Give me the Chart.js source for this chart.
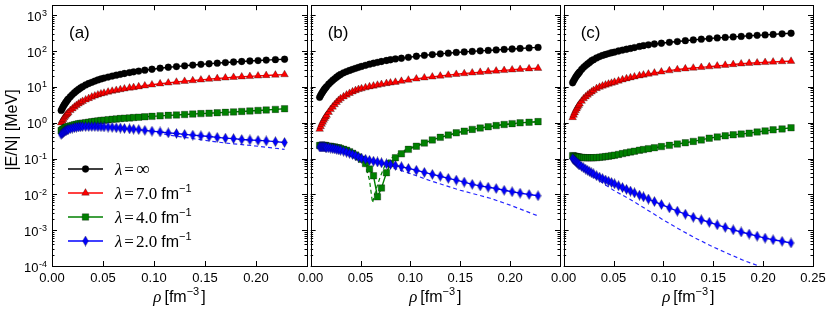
<!DOCTYPE html>
<html>
<head>
<meta charset="utf-8">
<script src="https://cdn.jsdelivr.net/npm/chart.js@4.4.0/dist/chart.umd.min.js"></script>
<style>
  html, body { margin: 0; padding: 0; background: #fff; }
  #wrap { position: relative; width: 831px; height: 310px; overflow: hidden; }
  canvas { position: absolute; top: 0; }
</style>
</head>
<body>
<div id="wrap">
  <canvas id="panelA" width="320" height="310" style="left:0px"></canvas>
  <canvas id="panelB" width="282" height="310" style="left:293px"></canvas>
  <canvas id="panelC" width="285" height="310" style="left:546px"></canvas>
</div>
<script>
// density grid of the marker curves, fm^-3
const rho = [0.009, 0.010, 0.011, 0.012, 0.013, 0.014, 0.015, 0.016, 0.018, 0.020,
  0.022, 0.024, 0.026, 0.028, 0.030, 0.033, 0.036, 0.039, 0.042, 0.045,
  0.048, 0.051, 0.055, 0.059, 0.063, 0.067, 0.071, 0.076, 0.080, 0.085,
  0.091, 0.098, 0.106, 0.114, 0.122, 0.130, 0.138, 0.146, 0.154, 0.162,
  0.170, 0.178, 0.186, 0.194, 0.202, 0.210, 0.219, 0.228];

// legend labels (lambda values)
const lambdaLabels = ['\u221e', '7.0', '4.0', '2.0'];
const panelLetters = ['(a)', '(b)', '(c)'];

// panel (a)
const aInf = [2.2, 2.5, 2.83, 3.17, 3.51, 3.86, 4.22, 4.58, 5.32, 6.08,
  6.86, 7.66, 8.48, 9.3, 10.1, 11.3, 12.4, 13.4, 14.5, 15.6,
  16.6, 17.6, 18.8, 20.0, 21.2, 22.4, 23.6, 25.0, 26.2, 27.5,
  29.2, 31.0, 33.1, 35.2, 36.8, 38.7, 40.6, 42.4, 44.1, 45.9,
  47.6, 49.3, 51.0, 52.6, 54.2, 55.8, 57.5, 59.0];
const a7 = [1.0, 1.13, 1.25, 1.38, 1.52, 1.65, 1.78, 1.92, 2.2, 2.45,
  2.75, 3.05, 3.35, 3.65, 3.95, 4.35, 4.75, 5.2, 5.6, 6.0,
  6.4, 6.7, 7.2, 7.6, 8.0, 8.4, 8.8, 9.3, 9.6, 10.1,
  10.7, 11.4, 12.2, 12.9, 13.6, 14.3, 15.0, 15.7, 16.4, 17.1,
  17.8, 18.5, 19.1, 19.6, 20.2, 20.8, 21.4, 22.0];
const a4 = [0.60, 0.63, 0.66, 0.69, 0.72, 0.74, 0.76, 0.78, 0.81, 0.84,
  0.87, 0.90, 0.93, 0.95, 0.97, 1.00, 1.03, 1.06, 1.09, 1.12,
  1.15, 1.17, 1.21, 1.24, 1.27, 1.30, 1.33, 1.36, 1.39, 1.42,
  1.46, 1.50, 1.55, 1.60, 1.64, 1.69, 1.74, 1.79, 1.84, 1.89,
  1.94, 2.00, 2.06, 2.12, 2.19, 2.26, 2.35, 2.45];
const a2 = [0.47, 0.50, 0.53, 0.56, 0.59, 0.61, 0.63, 0.65, 0.68, 0.71,
  0.73, 0.75, 0.76, 0.77, 0.78, 0.78, 0.78, 0.78, 0.78, 0.77,
  0.77, 0.76, 0.75, 0.74, 0.72, 0.71, 0.69, 0.67, 0.66, 0.64,
  0.61, 0.58, 0.55, 0.52, 0.50, 0.47, 0.45, 0.43, 0.41, 0.39,
  0.37, 0.36, 0.34, 0.33, 0.32, 0.31, 0.295, 0.28];
const rhoDashA2 = [0.009, 0.02, 0.04, 0.06, 0.08, 0.10, 0.115, 0.13, 0.15, 0.17, 0.196, 0.228];
const a2Dash = [0.47, 0.71, 0.78, 0.74, 0.66, 0.55, 0.45, 0.39, 0.32, 0.27, 0.23, 0.18];

// panel (b)
const bInf = [5.1, 5.8, 6.5, 7.2, 7.9, 8.7, 9.4, 10.2, 11.8, 13.4,
  15.1, 16.8, 18.6, 20.4, 22.2, 24.7, 26.7, 28.7, 30.8, 32.9,
  35.0, 37.2, 40.0, 42.8, 45.6, 48.3, 51.0, 54.3, 57.0, 60.0,
  62.8, 66.7, 71.4, 75.6, 79.6, 83.4, 87.3, 91.3, 94.5, 97.7,
  101, 104, 107, 111, 114, 118, 122, 126];
const b7 = [0.66, 0.78, 0.91, 1.04, 1.18, 1.32, 1.47, 1.62, 1.95, 2.35,
  2.75, 3.2, 3.7, 4.2, 4.7, 5.3, 5.95, 6.6, 7.3, 7.9,
  8.5, 8.9, 9.5, 10.1, 10.6, 11.2, 11.7, 12.4, 12.9, 13.5,
  14.4, 15.5, 16.7, 17.9, 19.0, 20.1, 21.3, 22.4, 23.5, 24.6,
  25.6, 26.7, 27.8, 28.8, 29.9, 30.9, 32.0, 33.0];
const b4 = [0.23, 0.23, 0.23, 0.23, 0.23, 0.23, 0.23, 0.22, 0.22, 0.22,
  0.21, 0.21, 0.20, 0.20, 0.19, 0.18, 0.17, 0.155, 0.14, 0.125,
  0.11, 0.095, 0.072, 0.051, 0.033, 0.0085, 0.015, 0.040, 0.072, 0.105,
  0.135, 0.18, 0.22, 0.27, 0.33, 0.39, 0.45, 0.52, 0.58, 0.65,
  0.71, 0.77, 0.83, 0.89, 0.94, 0.99, 1.03, 1.07];
const b2 = [0.21, 0.21, 0.21, 0.21, 0.21, 0.21, 0.205, 0.20, 0.20, 0.195,
  0.19, 0.185, 0.18, 0.175, 0.17, 0.16, 0.15, 0.14, 0.13, 0.12,
  0.11, 0.102, 0.095, 0.089, 0.084, 0.080, 0.076, 0.071, 0.068, 0.064,
  0.059, 0.053, 0.047, 0.041, 0.036, 0.032, 0.028, 0.025, 0.022, 0.019,
  0.0172, 0.0158, 0.0145, 0.013, 0.0118, 0.0108, 0.0099, 0.0091];
const rhoDashB4 = [0.009, 0.02, 0.03, 0.04, 0.048, 0.052, 0.056, 0.059, 0.062, 0.066, 0.070,
  0.074, 0.079, 0.084, 0.090, 0.098, 0.106, 0.12, 0.15, 0.19, 0.228];
const b4Dash = [0.23, 0.22, 0.19, 0.15, 0.11, 0.085, 0.05, 0.025, 0.0058, 0.015, 0.032,
  0.06, 0.095, 0.12, 0.15, 0.19, 0.23, 0.32, 0.55, 0.86, 1.07];
const rhoDashB2 = [0.009, 0.03, 0.05, 0.065, 0.08, 0.10, 0.12, 0.15, 0.18, 0.20, 0.228];
const b2Dash = [0.21, 0.17, 0.105, 0.08, 0.058, 0.038, 0.024, 0.013, 0.0078, 0.005, 0.0025];

// panel (c)
const cInf = [13, 14.7, 16.5, 18.4, 20.3, 22.2, 24.1, 26.1, 30.5, 35,
  39.2, 43.6, 48.1, 53.5, 57.5, 64, 70, 75.5, 80, 85,
  89.5, 93.5, 100, 106, 112, 118, 125, 134, 141, 149,
  157, 165, 175, 184, 194, 204, 214, 223, 232, 240,
  248, 256, 266, 274, 282, 291, 302, 313];
const c7 = [1.4, 1.64, 1.90, 2.17, 2.45, 2.75, 3.05, 3.36, 4.0, 4.7,
  5.3, 5.95, 6.6, 7.25, 7.95, 9.0, 9.8, 10.6, 11.3, 12.0,
  12.7, 13.5, 14.6, 15.8, 16.9, 18.0, 19.1, 20.4, 21.5, 22.8,
  24.4, 26.2, 28.3, 30.4, 32.0, 33.5, 35.0, 36.6, 38.3, 40.2,
  42.1, 44.0, 45.6, 46.9, 48.2, 49.6, 50.8, 52.0];
const c4 = [0.120, 0.118, 0.116, 0.114, 0.112, 0.111, 0.110, 0.109, 0.107, 0.106,
  0.105, 0.105, 0.105, 0.105, 0.105, 0.106, 0.108, 0.110, 0.113, 0.116,
  0.120, 0.124, 0.130, 0.137, 0.144, 0.152, 0.160, 0.170, 0.178, 0.188,
  0.200, 0.215, 0.233, 0.253, 0.275, 0.300, 0.33, 0.37, 0.40, 0.43,
  0.46, 0.48, 0.51, 0.55, 0.59, 0.63, 0.67, 0.72];
const c2 = [0.100, 0.093, 0.088, 0.083, 0.0785, 0.074, 0.070, 0.066, 0.060, 0.055,
  0.0507, 0.0468, 0.0432, 0.0398, 0.0372, 0.0331, 0.0302, 0.0275, 0.0251, 0.0232,
  0.0214, 0.0197, 0.0174, 0.0155, 0.0138, 0.0123, 0.0110, 0.0095, 0.0085, 0.0074,
  0.0063, 0.0052, 0.0042, 0.0034, 0.0028, 0.0023, 0.00195, 0.00166, 0.00141, 0.0012,
  0.00102, 0.00089, 0.00078, 0.00068, 0.0006, 0.00054, 0.00049, 0.00044];
const rhoDashC2 = [0.009, 0.02, 0.033, 0.05, 0.066, 0.08, 0.099, 0.115, 0.132, 0.15, 0.165, 0.18, 0.2, 0.215];
const c2Dash = [0.1, 0.05, 0.027, 0.013, 0.0074, 0.0043, 0.002, 0.0011, 0.0006, 0.00034, 0.00022, 0.000145, 0.00009, 0.000066];

const SANS = '"Liberation Sans", Arial, sans-serif';
const SERIF = '"Liberation Serif", "DejaVu Serif", serif';
const COLORS = ['#000000', '#ff0000', '#008000', '#0000ff'];
const EDGE = 'rgba(0,0,0,0.5)';

// thin diamond marker like matplotlib 'd'
function thinDiamond(color) {
  const c = document.createElement('canvas');
  c.width = 7; c.height = 11;
  const g = c.getContext('2d');
  g.beginPath();
  g.moveTo(3.5, 0.5); g.lineTo(6.4, 5.5); g.lineTo(3.5, 10.5); g.lineTo(0.6, 5.5); g.closePath();
  g.fillStyle = color; g.fill();
  g.strokeStyle = EDGE; g.lineWidth = 0.6; g.stroke();
  return c;
}
const diamond = thinDiamond(COLORS[3]);
const STYLES = ['circle', 'triangle', 'rect', diamond];
const RADII = [3.4, 4.4, 4.6, 4.5];

function pts(xs, ys) { return xs.map((x, i) => ({ x: x, y: ys[i] })); }

function markerSet(ys, k) {
  return {
    data: pts(rho, ys), borderColor: COLORS[k], backgroundColor: COLORS[k], borderWidth: 1.4,
    pointStyle: STYLES[k], pointRadius: RADII[k], pointBackgroundColor: COLORS[k],
    pointBorderColor: EDGE, pointBorderWidth: 0.6, order: 8 - k
  };
}
function dashSet(xs, ys, color) {
  return { data: pts(xs, ys), borderColor: color, borderWidth: 1.2, borderDash: [4, 3], pointRadius: 0, order: 10 };
}

function drawPieces(ctx, pieces, x, y, align) {
  let w = 0;
  pieces.forEach(p => { ctx.font = p.f; p.w = ctx.measureText(p.t).width; w += p.w + (p.gap || 0); });
  let cx = align === 'center' ? x - w / 2 : x;
  ctx.textAlign = 'left';
  ctx.textBaseline = 'alphabetic';
  pieces.forEach(p => { ctx.font = p.f; ctx.fillText(p.t, cx, y + (p.dy || 0)); cx += p.w + (p.gap || 0); });
}

function drawMarker(ctx, k, x, y) {
  ctx.fillStyle = COLORS[k]; ctx.strokeStyle = EDGE; ctx.lineWidth = 0.6;
  ctx.beginPath();
  if (k === 0) { ctx.arc(x, y, 3.4, 0, Math.PI * 2); }
  else if (k === 1) { ctx.moveTo(x, y - 4.4); ctx.lineTo(x + 3.8, y + 2.2); ctx.lineTo(x - 3.8, y + 2.2); ctx.closePath(); }
  else if (k === 2) { ctx.rect(x - 3.25, y - 3.25, 6.5, 6.5); }
  else { ctx.drawImage(diamond, x - 3.5, y - 5.5); return; }
  ctx.fill(); ctx.stroke();
}

function frameAndTicks(chart) {
  const ctx = chart.ctx, area = chart.chartArea;
  const xs = chart.scales.x, ys = chart.scales.y;
  ctx.save();
  ctx.strokeStyle = '#000'; ctx.lineWidth = 1;
  ctx.beginPath();
  for (let v = 0; v <= 0.2501; v += 0.05) {
    const px = Math.round(xs.getPixelForValue(v)) + 0.5;
    ctx.moveTo(px, area.bottom); ctx.lineTo(px, area.bottom - 5);
    ctx.moveTo(px, area.top); ctx.lineTo(px, area.top + 5);
  }
  for (let k = -4; k <= 3; k++) {
    for (let m = 1; m <= 9; m++) {
      const v = m * Math.pow(10, k);
      if (v > ys.max) continue;
      const py = Math.round(ys.getPixelForValue(v)) + 0.5;
      const len = m === 1 ? 5 : 2.5;
      ctx.moveTo(area.left, py); ctx.lineTo(area.left + len, py);
      ctx.moveTo(area.right, py); ctx.lineTo(area.right - len, py);
    }
  }
  ctx.stroke();
  ctx.strokeRect(Math.round(area.left) + 0.5, Math.round(area.top) + 0.5,
    Math.round(area.right - area.left), Math.round(area.bottom - area.top));
  ctx.restore();
}

function panelPlugin(opts) {
  return {
    id: 'panelDecor',
    afterDraw(chart) {
      const ctx = chart.ctx, area = chart.chartArea;
      frameAndTicks(chart);
      ctx.save();
      ctx.fillStyle = '#000';
      // panel letter
      ctx.font = '17px ' + SANS;
      ctx.textAlign = 'left'; ctx.textBaseline = 'alphabetic';
      ctx.fillText(opts.letter, area.left + 17, 38);
      // x title
      drawPieces(ctx, [
        { t: '\u03c1', f: 'italic 17px ' + SERIF, gap: 3 },
        { t: '[fm', f: '16px ' + SANS },
        { t: '\u22123', f: '11px ' + SANS, dy: -7, gap: 2 },
        { t: ']', f: '16px ' + SANS }
      ], (area.left + area.right) / 2, 302, 'center');
      if (opts.yLabels) {
        const ys = chart.scales.y;
        for (let k = -4; k <= 3; k++) {
          const py = ys.getPixelForValue(Math.pow(10, k));
          const exp = k < 0 ? '-' + (-k) : String(k);
          ctx.font = '9px ' + SANS;
          const ew = ctx.measureText(exp).width;
          ctx.textAlign = 'right'; ctx.textBaseline = 'alphabetic';
          ctx.fillText(exp, 47, py + 0.5);
          ctx.font = '13px ' + SANS; ctx.textBaseline = 'middle';
          ctx.fillText('10', 47 - ew - 0.5, py + 2);
        }
        ctx.save();
        ctx.translate(13, 130); ctx.rotate(-Math.PI / 2);
        ctx.font = '16px ' + SANS; ctx.textAlign = 'center'; ctx.textBaseline = 'middle';
        ctx.fillText('|E/N| [MeV]', 0, 0);
        ctx.restore();
      }
      if (opts.legend) {
        lambdaLabels.forEach((lab, k) => {
          const y = 169 + 24 * k;
          ctx.strokeStyle = COLORS[k]; ctx.lineWidth = 1.4;
          ctx.beginPath(); ctx.moveTo(68, y); ctx.lineTo(103, y); ctx.stroke();
          drawMarker(ctx, k, 85.5, y);
          ctx.fillStyle = '#000';
          const pieces = [
            { t: '\u03bb', f: 'italic 17px ' + SERIF, gap: 2 },
            { t: '=', f: '17px ' + SERIF, gap: 2 }
          ];
          if (lab === '\u221e') {
            pieces.push({ t: lab, f: '19px ' + SERIF });
          } else {
            pieces.push({ t: lab, f: '17px ' + SERIF, gap: 4 });
            pieces.push({ t: 'fm', f: '16px ' + SANS });
            pieces.push({ t: '\u22121', f: '11px ' + SANS, dy: -7 });
          }
          drawPieces(ctx, pieces, 115, y + 6, 'left');
        });
      }
      ctx.restore();
    }
  };
}

function makePanel(id, datasets, opts) {
  return new Chart(document.getElementById(id), {
    type: 'line',
    data: { datasets: datasets },
    options: {
      responsive: false, animation: false, devicePixelRatio: 1,
      layout: { padding: { left: opts.padLeft, right: opts.padRight, top: 5, bottom: 0 } },
      plugins: { legend: { display: false }, tooltip: { enabled: false } },
      scales: {
        x: {
          type: 'linear', min: 0, max: 0.25,
          grid: { display: false, drawTicks: false }, border: { display: false },
          ticks: {
            stepSize: 0.05, padding: 5, color: '#000', maxRotation: 0, autoSkip: false,
            font: { family: SANS, size: 13 },
            callback: v => (opts.lastLabel || v < 0.24) ? v.toFixed(2) : ''
          },
          afterFit: s => { s.height = 44; }
        },
        y: { type: 'logarithmic', min: 1e-4, max: 1900, display: false }
      }
    },
    plugins: [panelPlugin(opts)]
  });
}

makePanel('panelA', [
  markerSet(aInf, 0), markerSet(a7, 1), markerSet(a4, 2), markerSet(a2, 3),
  dashSet(rhoDashA2, a2Dash, 'rgba(0,0,255,0.85)')
], { letter: panelLetters[0], padLeft: 52, padRight: 13, yLabels: true, legend: true, lastLabel: false });

makePanel('panelB', [
  markerSet(bInf, 0), markerSet(b7, 1), markerSet(b4, 2), markerSet(b2, 3),
  dashSet(rhoDashB4, b4Dash, '#008000'),
  dashSet(rhoDashB2, b2Dash, 'rgba(0,0,255,0.85)')
], { letter: panelLetters[1], padLeft: 14, padRight: 15, yLabels: false, legend: false, lastLabel: false });

makePanel('panelC', [
  markerSet(cInf, 0), markerSet(c7, 1), markerSet(c4, 2), markerSet(c2, 3),
  dashSet(rhoDashC2, c2Dash, 'rgba(0,0,255,0.85)')
], { letter: panelLetters[2], padLeft: 14, padRight: 18, yLabels: false, legend: false, lastLabel: true });
</script>
</body>
</html>
